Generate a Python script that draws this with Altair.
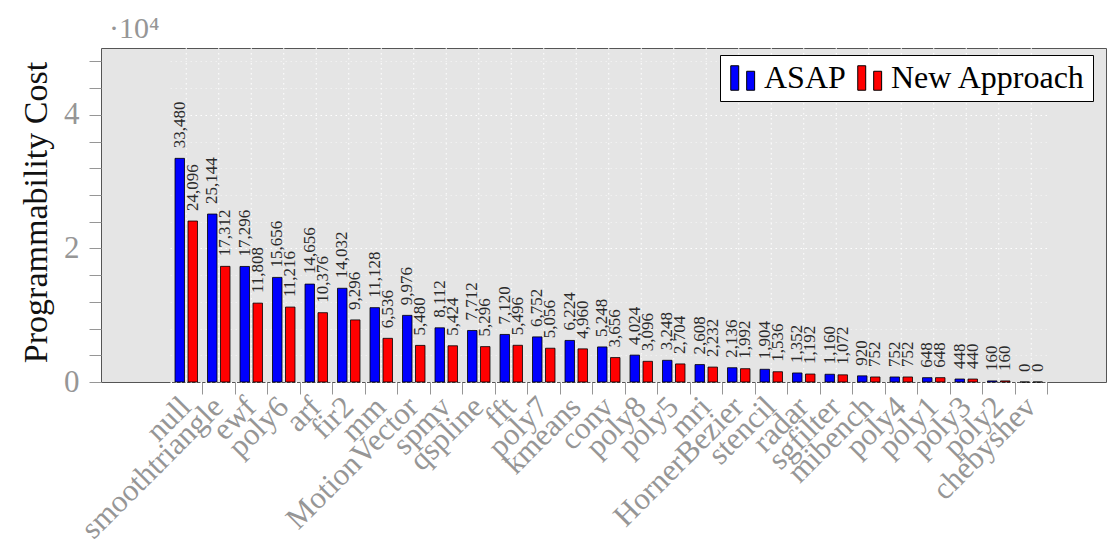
import altair as alt
import pandas as pd

# Benchmarks in plotting order, with the cost measured for each approach
benchmarks = [
    "null", "smoothtriangle", "ewf", "poly6", "arf", "fir2", "mm",
    "MotionVector", "spmv", "qspline", "fft", "poly7", "kmeans", "conv",
    "poly8", "poly5", "mri", "HornerBezier", "stencil", "radar", "sgfilter",
    "mibench", "poly4", "poly1", "poly3", "poly2", "chebyshev",
]
asap = [
    33480, 25144, 17296, 15656, 14656, 14032, 11128, 9976, 8112, 7712, 7120,
    6752, 6224, 5248, 4024, 3248, 2608, 2136, 1904, 1352, 1160, 920, 752,
    648, 448, 160, 0,
]
new_approach = [
    24096, 17312, 11808, 11216, 10376, 9296, 6536, 5480, 5424, 5296, 5496,
    5056, 4960, 3656, 3096, 2704, 2232, 1992, 1536, 1192, 1072, 752, 752,
    648, 440, 160, 0,
]
series_names = ["ASAP", "New Approach"]
series_colors = ["#0000ff", "#ff0000"]
y_ticks = list(range(0, 48001, 4000))

rows = []
for b, a, n in zip(benchmarks, asap, new_approach):
    rows.append({"bench": b, "series": series_names[0], "value": a})
    rows.append({"bench": b, "series": series_names[1], "value": n})
df = pd.DataFrame(rows)
bench_df = pd.DataFrame({"bench": benchmarks})

SERIF = "Liberation Serif"
GRAY = "#969696"

# groups occupy the middle of the plot, leaving empty space either side
x_enc = alt.X(
    "bench:N",
    sort=benchmarks,
    scale=alt.Scale(range=[69, 946.5], paddingInner=0, paddingOuter=0),
    axis=alt.Axis(
        title=None,
        bandPosition=1,
        labelAngle=-45,
        labelAlign="right",
        labelBaseline="middle",
        labelFont=SERIF,
        labelFontSize=31,
        labelColor=GRAY,
        labelPadding=8,
        labelLimit=0,
        labelOverlap=False,
        labelBound=False,
        tickSize=12,
        tickColor=GRAY,
        domain=False,
        grid=False,
    ),
)

y_enc = alt.Y(
    "value:Q",
    scale=alt.Scale(domain=[0, 50000], nice=False),
    axis=alt.Axis(
        values=y_ticks,
        labelExpr="datum.value % 20000 == 0 ? format(datum.value / 10000, 'd') : ''",
        title="Programmability Cost",
        titleFont=SERIF,
        titleFontSize=34,
        titleFontWeight="normal",
        titleColor="#111111",
        titleX=-65,
        titleY=164,
        titleAlign="center",
        titleBaseline="middle",
        labelFont=SERIF,
        labelFontSize=31,
        labelColor=GRAY,
        labelPadding=10,
        tickSize=12,
        tickColor=GRAY,
        domain=False,
        grid=True,
        gridColor="white",
        gridDash=[1.5, 3.5],
        gridWidth=1,
        gridOpacity={
            "condition": {"test": "datum.value % 20000 === 0", "value": 1},
            "value": 0.45,
        },
    ),
)

x_off = alt.XOffset(
    "series:N",
    sort=series_names,
    scale=alt.Scale(paddingInner=0.27, paddingOuter=0.385),
)

bar_icon = "M-1,-1H-0.35V1H-1Z M0.3,-0.55H0.95V1H0.3Z"

color_enc = alt.Color(
    "series:N",
    sort=series_names,
    scale=alt.Scale(domain=series_names, range=series_colors),
    legend=alt.Legend(
        title=None,
        orient="none",
        legendX=619,
        legendY=7,
        direction="horizontal",
        fillColor="white",
        strokeColor="black",
        padding=7,
        labelFont=SERIF,
        labelFontSize=32,
        labelColor="black",
        labelLimit=0,
        labelOffset=5,
        columnPadding=8,
        symbolType=bar_icon,
        symbolSize=600,
        symbolStrokeColor="black",
        symbolStrokeWidth=1,
        symbolOpacity=1,
    ),
)

# dotted vertical guides through the middle of each benchmark group
guides = alt.Chart(bench_df).mark_rule(
    color="white", strokeDash=[1.5, 3.5], strokeWidth=1
).encode(x=x_enc)

bars = alt.Chart(df).mark_bar(stroke="black", strokeWidth=0.8, opacity=1).encode(
    x=x_enc, xOffset=x_off, y=y_enc, color=color_enc
)

labels = alt.Chart(df).mark_text(
    angle=270, align="left", baseline="middle", dx=10,
    font=SERIF, fontSize=17, color="#2a2a2a",
).encode(
    x=x_enc, xOffset=x_off, y=y_enc, text=alt.Text("value:Q", format=",")
)

chart = alt.layer(guides, bars, labels).properties(
    width=1005,
    height=334,
    autosize=alt.AutoSizeParams(type="none"),
    padding={"left": 101, "top": 48, "right": 1, "bottom": 176},
    title=alt.TitleParams(
        text="·10⁴",
        anchor="start",
        frame="group",
        orient="top",
        dx=8,
        dy=30,
        offset=10,
        baseline="alphabetic",
        font=SERIF,
        fontSize=30,
        fontWeight="normal",
        color=GRAY,
    ),
).configure_view(fill="#e5e5e5", stroke="#555555", strokeWidth=1)

chart.save("out.html", embed_options={"renderer": "svg", "actions": False})
